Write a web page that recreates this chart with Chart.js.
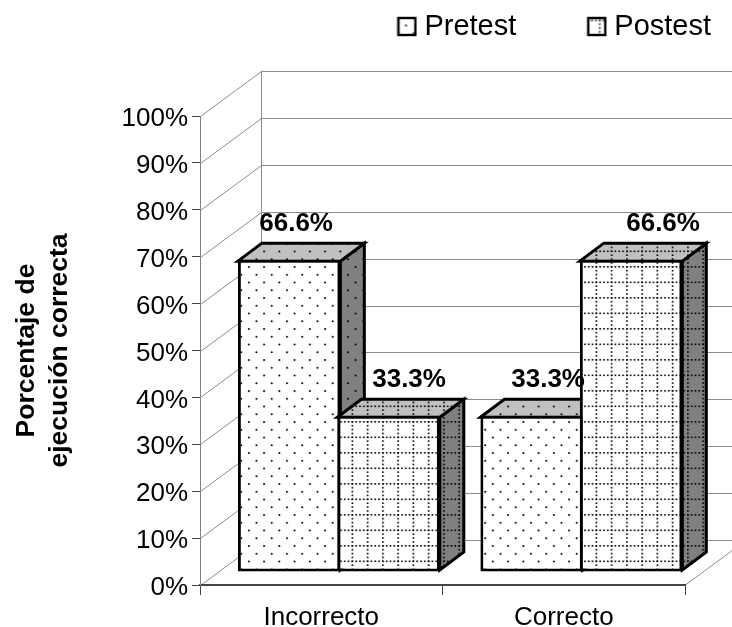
<!DOCTYPE html>
<html>
<head>
<meta charset="utf-8">
<style>html,body{margin:0;background:#fff}canvas{display:block}</style>
<script src="https://cdn.jsdelivr.net/npm/chart.js@4"></script>
</head>
<body>
<canvas id="c" width="732" height="627"></canvas>
<script>
const categories = ['Incorrecto', 'Correcto'];
const pretest = [66.6, 33.3];
const postest = [33.3, 66.6];
const seriesNames = ['Pretest', 'Postest'];
const yTicks = [0, 10, 20, 30, 40, 50, 60, 70, 80, 90, 100];

const FONT = '"Liberation Sans", Arial, sans-serif';
// fake 3d depth, in px
const WALL_DX = 61, WALL_DY = 45;
const BAR_DX = 17.6, BAR_DY = 13;
const FACE_DX = 24, FACE_DY = 18;
// neighbouring bars share one border instead of showing two
const BAR_NUDGE = [1.5, -1.5];
// value labels are not centred the same way on each bar in the original
const labelShift = [[8.5, 18], [19, 30.5]];
const LEGEND_GAP = 77.5;

function makeTile(kind, bg) {
  const t = document.createElement('canvas');
  t.width = 61; t.height = 62;
  const g = t.getContext('2d');
  g.fillStyle = bg;
  g.fillRect(0, 0, 61, 62);
  g.fillStyle = '#000';
  if (kind === 'dots') {
    for (let r = 0; r < 8; r++) {
      for (let k = 0; k < 4; k++) {
        const x = k * 15.25 + (r % 2 ? 7.62 : 0) + 1;
        g.beginPath();
        g.arc(x, r * 7.75 + 1, 1, 0, Math.PI * 2);
        g.fill();
      }
    }
  } else {
    for (let k = 0; k < 4; k++) {
      for (let d = 0; d < 16; d++) {
        g.fillRect(k * 15.25, d * 3.875, 1.6, 1.6);
      }
    }
    for (let r = 0; r < 4; r++) {
      for (let d = 0; d < 16; d++) {
        g.fillRect(d * 3.81, r * 15.5, 1.6, 1.6);
      }
    }
  }
  return t;
}

const ctx0 = document.getElementById('c').getContext('2d');
function pat(kind, bg) { return ctx0.createPattern(makeTile(kind, bg), 'repeat'); }
const kinds = ['dots', 'grid'];
const fronts = kinds.map(k => pat(k, '#ffffff'));
const tops = kinds.map(k => pat(k, '#c0c0c0'));
const sides = kinds.map(k => pat(k, '#808080'));

function legendIcon(kind) {
  const c = document.createElement('canvas');
  c.width = 21; c.height = 21;
  const g = c.getContext('2d');
  g.save();
  g.beginPath();
  g.rect(2, 2, 17, 17);
  g.clip();
  if (kind === 'dots') g.translate(9.5, 9.5); else g.translate(13.5, 4.5);
  g.translate(-1, -1);
  g.fillStyle = g.createPattern(makeTile(kind, '#ffffff'), 'repeat');
  g.fillRect(-40, -40, 90, 90);
  g.restore();
  g.strokeStyle = '#000';
  g.lineWidth = 2.4;
  g.strokeRect(2, 2, 17, 17);
  return c;
}

function poly(ctx, pts, fill) {
  ctx.beginPath();
  pts.forEach((p, i) => i ? ctx.lineTo(p[0], p[1]) : ctx.moveTo(p[0], p[1]));
  ctx.closePath();
  ctx.fillStyle = fill;
  ctx.fill();
  ctx.stroke();
}

const depth3d = {
  id: 'depth3d',
  // legend takes no room in the layout (maxHeight), so put it in place here
  afterLayout(chart) {
    const lg = chart.legend;
    lg.left = 0;
    lg.right = 711 + LEGEND_GAP;
    lg.top = 12 - LEGEND_GAP;
    lg.bottom = 60;
  },
  // back wall, floor and the little diagonals off the y axis
  beforeDraw(chart) {
    const ctx = chart.ctx, { x, y } = chart.scales;
    const left = x.left, right = x.right, bottom = y.getPixelForValue(0);
    ctx.save();
    ctx.strokeStyle = '#8c8c8c';
    ctx.lineWidth = 1;
    yTicks.forEach(v => {
      const py = Math.round(y.getPixelForValue(v)) + 0.5;
      ctx.beginPath();
      ctx.moveTo(left + 0.5, py);
      ctx.lineTo(left + WALL_DX + 0.5, py - WALL_DY);
      ctx.lineTo(right + WALL_DX, py - WALL_DY);
      ctx.stroke();
    });
    ctx.beginPath();
    ctx.moveTo(left + WALL_DX + 0.5, y.getPixelForValue(100) - WALL_DY);
    ctx.lineTo(left + WALL_DX + 0.5, bottom - WALL_DY);
    ctx.moveTo(right + 0.5, bottom);
    ctx.lineTo(right + WALL_DX + 0.5, bottom - WALL_DY);
    ctx.stroke();
    ctx.restore();
  },
  // draw the bars ourselves so that the later series sits on top
  beforeDatasetsDraw(chart) {
    const ctx = chart.ctx;
    [0, 1].forEach(ds => {
      ctx.save();
      ctx.translate(BAR_DX + BAR_NUDGE[ds], -BAR_DY);
      chart.getDatasetMeta(ds).data.forEach(el => {
        const l = el.x - el.width / 2, r = el.x + el.width / 2;
        const t = el.y + 1.5, b = el.base - 1.5;
        ctx.strokeStyle = '#000';
        ctx.lineWidth = 3;
        ctx.lineJoin = 'miter';
        poly(ctx, [[r, t], [r + FACE_DX, t - FACE_DY], [r + FACE_DX, b - FACE_DY], [r, b]], sides[ds]);
        poly(ctx, [[l, t], [l + FACE_DX, t - FACE_DY], [r + FACE_DX, t - FACE_DY], [r, t]], tops[ds]);
        el.draw(ctx);
      });
      ctx.restore();
    });
    return false;
  },
  afterDraw(chart) {
    const ctx = chart.ctx;
    ctx.save();
    ctx.fillStyle = '#000';
    ctx.font = 'bold 26px ' + FONT;
    ctx.textAlign = 'center';
    ctx.textBaseline = 'middle';
    [0, 1].forEach(ds => {
      chart.getDatasetMeta(ds).data.forEach((el, i) => {
        const val = chart.data.datasets[ds].data[i];
        ctx.fillText(val.toFixed(1) + '%', el.x + BAR_DX + labelShift[ds][i], el.y - BAR_DY - 36);
      });
    });
    ctx.restore();
  }
};

new Chart(ctx0, {
  type: 'bar',
  data: {
    labels: categories,
    datasets: [
      { label: seriesNames[0], data: pretest, backgroundColor: fronts[0] },
      { label: seriesNames[1], data: postest, backgroundColor: fronts[1] }
    ]
  },
  plugins: [depth3d],
  options: {
    responsive: false,
    animation: false,
    events: [],
    layout: { padding: { left: 11, right: 47, top: 115, bottom: 0 } },
    datasets: { bar: { categoryPercentage: 0.845, barPercentage: 1, borderColor: '#000', borderWidth: 3, borderSkipped: false } },
    plugins: {
      tooltip: { enabled: false },
      legend: {
        position: 'top',
        align: 'end',
        maxHeight: 1,
        labels: {
          color: '#000',
          font: { family: FONT, size: 29 },
          usePointStyle: true,
          pointStyleWidth: 6,
          padding: LEGEND_GAP,
          generateLabels: () => seriesNames.map((n, i) => ({
            text: n, datasetIndex: i, pointStyle: legendIcon(kinds[i]), fontColor: '#000', lineWidth: 0
          }))
        }
      }
    },
    scales: {
      x: {
        grid: { drawOnChartArea: false, drawTicks: true, tickLength: 10, tickColor: '#444', tickWidth: 1 },
        border: { color: '#444', width: 2 },
        ticks: { color: '#000', font: { family: FONT, size: 26 }, padding: 7, maxRotation: 0 },
        afterFit(s) { s.height = 42; }
      },
      y: {
        min: 0,
        max: 100,
        afterBuildTicks(s) { s.ticks = yTicks.map(v => ({ value: v })); },
        grid: { drawOnChartArea: false, drawTicks: true, tickLength: 8, tickColor: '#444', tickWidth: 1 },
        border: { color: '#808080', width: 1 },
        ticks: { color: '#000', font: { family: FONT, size: 26 }, padding: 4, labelOffset: 3, callback: v => v + '%' },
        title: {
          display: true,
          text: ['Porcentaje de', 'ejecución correcta'],
          color: '#000',
          font: { family: FONT, size: 26.5, weight: 'bold', lineHeight: 1.22 },
          padding: 0
        },
        afterFit(s) { s.width = 189; }
      }
    }
  }
});
</script>
</body>
</html>
